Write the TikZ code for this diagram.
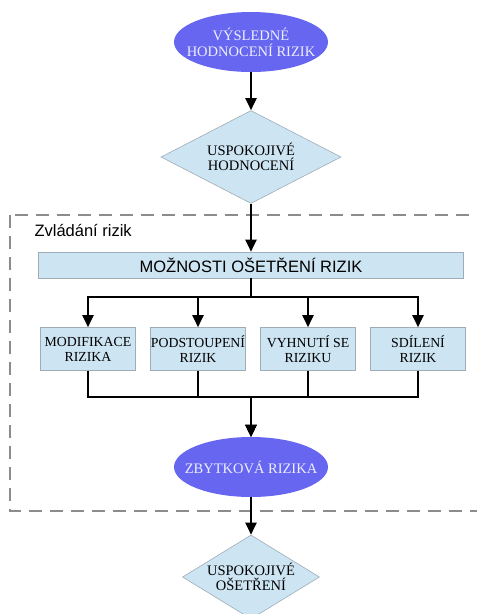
\documentclass[tikz,border=0pt]{standalone}
\usepackage{fontspec}
\setmainfont{Liberation Serif}
\setsansfont{Liberation Sans}
\usetikzlibrary{shapes.geometric, positioning, arrows.meta}

\definecolor{elfill}{RGB}{102,102,240}
\definecolor{eltext}{RGB}{238,238,255}
\definecolor{boxfill}{RGB}{205,228,242}
\definecolor{boxline}{RGB}{160,172,182}
\definecolor{dashgray}{RGB}{140,140,140}

\tikzset{
  konec/.style={ellipse, fill=elfill, text=eltext, minimum width=154pt, minimum height=60pt,
    inner xsep=-25pt, inner ysep=0pt, align=center, font=\rmfamily\fontsize{14.5}{16}\selectfont},
  rozhod/.style={diamond, draw=boxline, fill=boxfill, line width=0.6pt, inner sep=0pt,
    align=center, font=\rmfamily\fontsize{14.5}{15}\selectfont},
  krok/.style={rectangle, draw=boxline, fill=boxfill, line width=0.6pt, minimum width=95pt,
    minimum height=43pt, inner sep=0pt, align=center, font=\rmfamily\fontsize{13.8}{15}\selectfont},
  moznosti/.style={rectangle, draw=boxline, fill=boxfill, line width=0.6pt, minimum width=425pt,
    minimum height=26pt, inner sep=0pt, font=\sffamily\fontsize{16.5}{18}\selectfont},
  ramec/.style={draw=dashgray, line width=1.5pt, dash pattern=on 13pt off 8pt},
}

\begin{document}
\begin{tikzpicture}
  [x=1pt, y=-1pt, on grid, node distance=110pt, >={Triangle[length=12pt,width=11pt]}]
   \useasboundingbox (0,0) rectangle (477,614);
   \draw[ramec] (10,215) rectangle (500,511);
   \node[anchor=west, font=\sffamily\fontsize{16.5}{18}\selectfont] (zvl) at (31,231) {Zvládání rizik};

   \node[konec] (vys) at (251,42) {VÝSLEDNÉ\\HODNOCENÍ RIZIK};
   \node[rozhod, minimum width=180pt, minimum height=93pt, aspect=1.9] (usp_1) [below=115pt of vys] {USPOKOJIVÉ\\HODNOCENÍ};
   \node[moznosti] (moz) [below=108pt of usp_1] {MOŽNOSTI OŠETŘENÍ RIZIK};
   \node[krok] (m_2) [below left=84pt and 53pt of moz] {PODSTOUPENÍ\\RIZIK};
   \node[krok] (m_1) [left=of m_2] {MODIFIKACE\\RIZIKA};
   \node[krok] (m_3) [right=of m_2] {VYHNUTÍ SE\\RIZIKU};
   \node[krok] (m_4) [right=of m_3] {SDÍLENÍ\\RIZIK};
   \node[konec] (zbyt) [below=202pt of moz] {ZBYTKOVÁ RIZIKA};
   \node[rozhod, minimum width=137pt, minimum height=84pt, aspect=1.63] (usp_2) [below=110pt of zbyt] {USPOKOJIVÉ\\OŠETŘENÍ};

    \path[->, line width=2pt]
    (vys) edge (usp_1)
    (usp_1) edge (moz)
    (zbyt) edge (usp_2);
    \foreach \i in {1,...,4} {
      \draw[->, line width=2pt] (moz.south) -- ++(0,19) -| (m_\i.north);
      \draw[->, line width=2pt] (m_\i.south) -- ++(0,26) -| (zbyt.north);
    }
\end{tikzpicture}
\end{document}
